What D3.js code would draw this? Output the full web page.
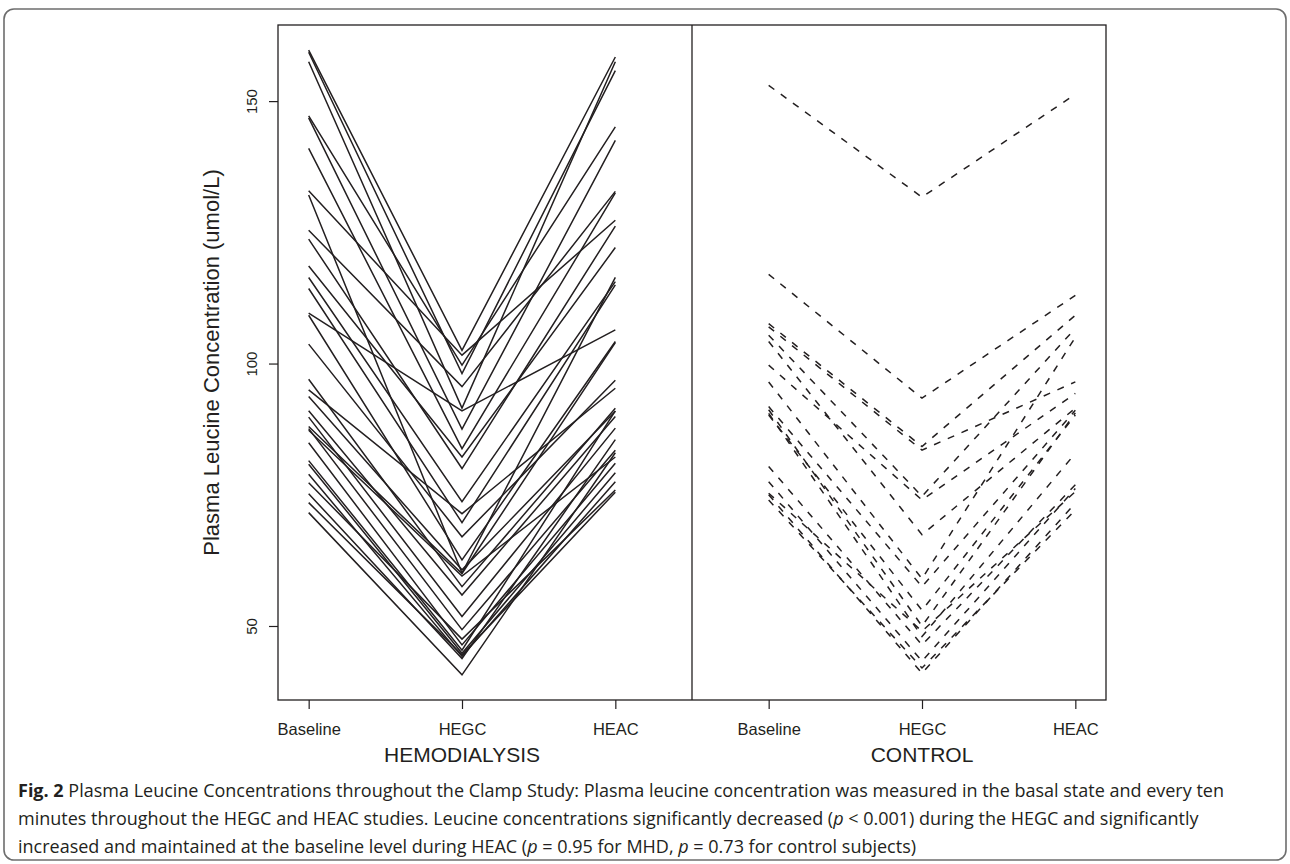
<!DOCTYPE html>
<html><head><meta charset="utf-8">
<script src="https://cdn.jsdelivr.net/npm/d3@7"></script>
<style>body{margin:0;background:#fff;} svg{display:block;}</style>
</head><body>
<svg id="chart" width="1290" height="864"></svg>
<script>
// ---- data ----
const timepoints = ["Baseline", "HEGC", "HEAC"];
const groups = ["HEMODIALYSIS", "CONTROL"];
const yTicks = [50, 100, 150];
const yTitle = "Plasma Leucine Concentration (umol/L)";

const hdBaseline = [159.7,159.3,157.5,147.2,146.8,141.0,132.9,132.1,125.4,123.7,118.6,116.4,114.3,109.6,109.2,103.7,97.0,95.0,93.7,91.0,89.8,88.0,87.6,87.3,84.9,81.5,80.8,78.9,77.3,75.2,73.5,71.6];
const hdHEGC     = [102.5,98.1,91.5,99.7,87.5,83.8,101.6,60.1,95.6,80.0,82.2,73.7,69.7,91.0,62.6,67.0,57.5,71.4,60.7,55.9,51.8,60.0,49.3,59.5,46.4,45.4,44.8,44.2,47.5,43.8,44.5,40.7];
const hdHEAC     = [158.4,155.8,157.5,145.1,142.5,132.5,127.3,116.4,132.8,126.2,122.1,115.6,115.0,106.4,104.2,96.8,91.5,95.3,90.9,89.9,87.7,104.0,83.5,82.2,81.0,91.0,79.2,77.5,75.9,85.5,75.5,83.0];

const ctrlBaseline = [153.0,117.0,107.6,107.0,105.4,104.2,99.7,96.5,91.8,91.2,90.5,90.2,80.4,77.5,75.3,75.0,74.0];
const ctrlHEGC     = [131.7,93.4,84.2,83.5,74.7,67.4,74.0,59.0,57.5,50.0,48.0,53.0,46.4,43.3,49.0,41.0,42.0];
const ctrlHEAC     = [151.3,113.0,109.2,96.5,106.7,91.5,94.3,105.0,91.1,90.6,82.9,90.2,76.9,76.2,75.6,73.4,72.1];

const captionLines = [
  [{t:"Fig. 2", b:true}, {t:" Plasma Leucine Concentrations throughout the Clamp Study: Plasma leucine concentration was measured in the basal state and every ten"}],
  [{t:"minutes throughout the HEGC and HEAC studies. Leucine concentrations significantly decreased ("}, {t:"p", i:true}, {t:" < 0.001) during the HEGC and significantly"}],
  [{t:"increased and maintained at the baseline level during HEAC ("}, {t:"p", i:true}, {t:" = 0.95 for MHD, "}, {t:"p", i:true}, {t:" = 0.73 for control subjects)"}]
];

// ---- chart ----
const svg = d3.select("#chart");
const W = 1290, H = 864;
const x = d3.scaleLinear().domain([0.8, 6.2]).range([278, 1106]);
const y = d3.scaleLinear().domain([35.9, 164.5]).range([700, 25]);
const ink = "#231f20";
const sans = "'Liberation Sans', Arial, sans-serif";

// outer frame
svg.append("rect").attr("x", 4).attr("y", 9).attr("width", W - 8).attr("height", 851)
  .attr("rx", 10).attr("fill", "none").attr("stroke", "#6d6d6d").attr("stroke-width", 1.6);

const line = d3.line().x(d => x(d[0])).y(d => y(d[1]));

const hd = hdBaseline.map((b, i) => [[1, b], [2, hdHEGC[i]], [3, hdHEAC[i]]]);
const ct = ctrlBaseline.map((b, i) => [[4, b], [5, ctrlHEGC[i]], [6, ctrlHEAC[i]]]);

svg.append("g").selectAll("path").data(hd).join("path")
  .attr("d", line).attr("fill", "none").attr("stroke", ink).attr("stroke-width", 1.5);
svg.append("g").selectAll("path").data(ct).join("path")
  .attr("d", line).attr("fill", "none").attr("stroke", ink).attr("stroke-width", 1.5)
  .attr("stroke-dasharray", "7,8");

// plot box + divider
const [x0, x1] = x.range();
const [yb, yt] = y.range();
svg.append("rect").attr("x", x0).attr("y", yt).attr("width", x1 - x0).attr("height", yb - yt)
  .attr("fill", "none").attr("stroke", ink).attr("stroke-width", 1.3);
svg.append("line").attr("x1", x(3.5)).attr("x2", x(3.5)).attr("y1", yt).attr("y2", yb)
  .attr("stroke", ink).attr("stroke-width", 1.3);

// y axis
const yAxis = svg.append("g").attr("transform", `translate(${x0},0)`)
  .call(d3.axisLeft(y).tickValues(yTicks).tickSize(9).tickFormat(d3.format("d")));
yAxis.select(".domain").remove();
yAxis.selectAll("line").attr("stroke", ink).attr("stroke-width", 1.2);
yAxis.selectAll("text").attr("x", null).attr("dy", null)
  .attr("transform", "rotate(-90)").attr("y", -21).attr("x", 0)
  .attr("text-anchor", "middle").attr("fill", ink)
  .style("font-family", sans).style("font-size", "15px");

// x axis
const xTickVals = [1, 2, 3, 4, 5, 6];
const xAxis = svg.append("g").attr("transform", `translate(0,${yb})`)
  .call(d3.axisBottom(x).tickValues(xTickVals).tickSize(9)
    .tickFormat(d => timepoints[(d - 1) % 3]));
xAxis.select(".domain").remove();
xAxis.selectAll("line").attr("stroke", ink).attr("stroke-width", 1.2);
xAxis.selectAll("text").attr("y", 35).attr("dy", null).attr("fill", ink)
  .style("font-family", sans).style("font-size", "16.5px");

// group labels
svg.append("g").selectAll("text").data(groups).join("text")
  .attr("x", (d, i) => x(2 + 3 * i)).attr("y", 762).attr("text-anchor", "middle")
  .attr("fill", ink)
  .style("font-family", sans).style("font-size", "21px")
  .text(d => d);

// y title
svg.append("text").attr("transform", `translate(219,${(yt + yb) / 2}) rotate(-90)`)
  .attr("text-anchor", "middle").attr("fill", ink)
  .style("font-family", sans).style("font-size", "22px")
  .text(yTitle);

// caption
const cap = svg.append("g").style("font-family", "'Open Sans', 'Noto Sans', sans-serif")
  .style("font-size", "18px").attr("fill", "#231f20");
captionLines.forEach((ln, i) => {
  const t = cap.append("text").attr("x", 18).attr("y", 797 + i * 28);
  ln.forEach(s => t.append("tspan").text(s.t)
    .attr("font-weight", s.b ? "bold" : null)
    .attr("font-style", s.i ? "italic" : null));
});
</script>
</body></html>
